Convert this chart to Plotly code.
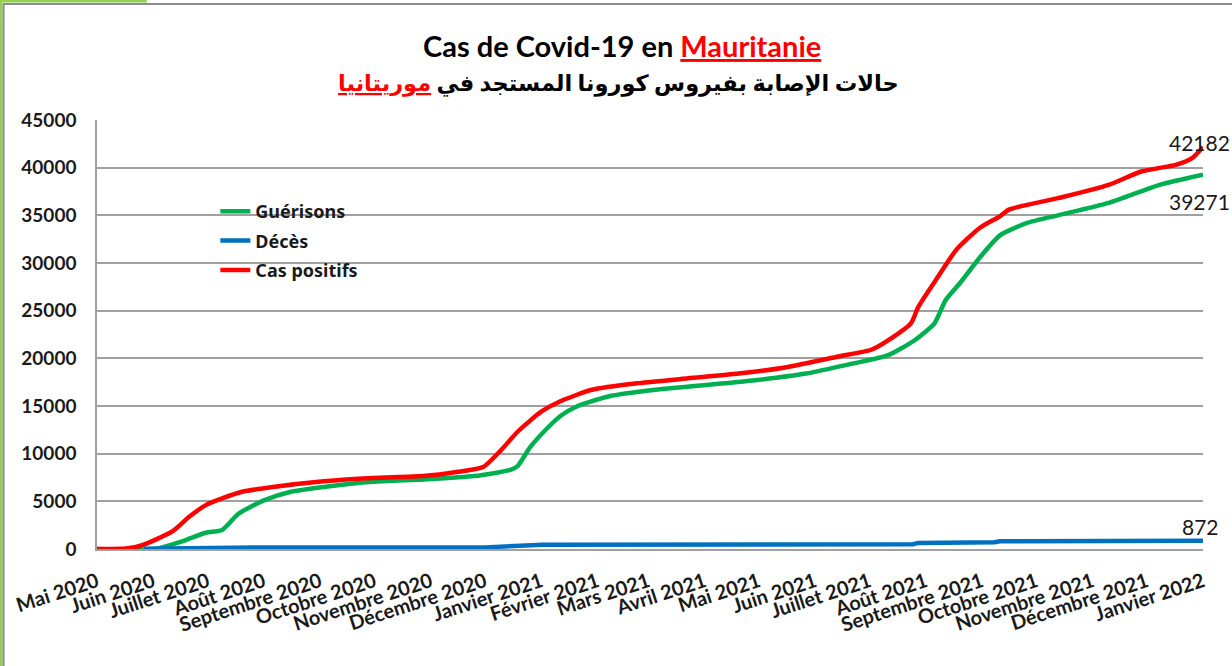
import plotly.graph_objects as go

# données (cumuls)
dates_cas = ["2020-05-01", "2020-05-17", "2020-05-26", "2020-06-12", "2020-06-21", "2020-06-30",
             "2020-07-09", "2020-07-20", "2020-08-06", "2020-09-03", "2020-09-30", "2020-10-28",
             "2020-11-16", "2020-11-30", "2020-12-10", "2020-12-19", "2021-01-01", "2021-01-11",
             "2021-01-29", "2021-02-24", "2021-03-23", "2021-04-20", "2021-05-17", "2021-06-14",
             "2021-07-02", "2021-07-13", "2021-07-24", "2021-07-28", "2021-08-08", "2021-08-18",
             "2021-08-31", "2021-09-11", "2021-09-16", "2021-10-13", "2021-11-10", "2021-11-28",
             "2021-12-17", "2021-12-26", "2022-01-01"]
cas_positifs = [0, 50, 400, 1900, 3400, 4600, 5300, 6000, 6500, 7100, 7450, 7650, 8100, 8600,
                10400, 12300, 14400, 15450, 16700, 17400, 17900, 18400, 19100, 20200, 20900,
                22100, 23700, 25400, 28600, 31400, 33700, 34900, 35600, 36800, 38200, 39600,
                40300, 41000, 42182]

dates_gue = ["2020-05-01", "2020-06-03", "2020-06-17", "2020-06-30", "2020-07-09", "2020-07-18",
             "2020-08-01", "2020-08-16", "2020-09-03", "2020-09-30", "2020-10-28", "2020-11-25",
             "2020-12-15", "2020-12-19", "2020-12-26", "2021-01-05", "2021-01-12", "2021-01-20",
             "2021-02-07", "2021-03-05", "2021-04-02", "2021-04-29", "2021-05-27", "2021-06-23",
             "2021-07-11", "2021-07-26", "2021-08-06", "2021-08-12", "2021-08-20", "2021-08-31",
             "2021-09-11", "2021-09-26", "2021-10-13", "2021-11-10", "2021-12-08", "2022-01-01"]
guerisons = [0, 30, 800, 1700, 2000, 3700, 5100, 6000, 6500, 7050, 7300, 7650, 8300, 8700,
             10700, 12800, 14000, 14900, 16000, 16700, 17200, 17700, 18400, 19500, 20300,
             21900, 23700, 26100, 27900, 30600, 32900, 34200, 35000, 36300, 38200, 39271]

dates_dec = ["2020-05-27", "2020-06-15", "2020-07-01", "2020-08-01", "2020-12-01", "2020-12-28",
             "2021-01-02", "2021-07-25", "2021-07-28", "2021-09-08", "2021-09-11", "2022-01-01"]
deces = [20, 60, 130, 157, 170, 380, 440, 500, 640, 720, 820, 872]

mois_vals = ["2020-05-01", "2020-06-01", "2020-07-01", "2020-08-01", "2020-09-01", "2020-10-01",
             "2020-11-01", "2020-12-01", "2021-01-01", "2021-02-01", "2021-03-01", "2021-04-01",
             "2021-05-01", "2021-06-01", "2021-07-01", "2021-08-01", "2021-09-01", "2021-10-01",
             "2021-11-01", "2021-12-01", "2022-01-01"]
mois_labels = ["Mai 2020", "Juin 2020", "Juillet 2020", "Août 2020", "Septembre 2020",
               "Octobre 2020", "Novembre 2020", "Décembre 2020", "Janvier 2021", "Février 2021",
               "Mars 2021", "Avril 2021", "Mai 2021", "Juin 2021", "Juillet 2021", "Août 2021",
               "Septembre 2021", "Octobre 2021", "Novembre 2021", "Décembre 2021", "Janvier 2022"]

FONT = "Lato, 'DejaVu Sans', sans-serif"
INK = "#1a1a1a"

fig = go.Figure()
fig.add_trace(go.Scatter(x=dates_gue, y=guerisons, name="<b>Guérisons</b>", mode="lines",
                         line=dict(color="#00b050", width=4.5, shape="spline", smoothing=0.6),
                         legendrank=1, legendgroup="g"))
fig.add_trace(go.Scatter(x=dates_cas, y=cas_positifs, name="<b>Cas positifs</b>", mode="lines",
                         line=dict(color="#ff0000", width=4.5, shape="spline", smoothing=0.6),
                         legendrank=3, legendgroup="c"))
fig.add_trace(go.Scatter(x=dates_dec, y=deces, name="<b>Décès</b>", mode="lines",
                         line=dict(color="#0070c0", width=4.5),
                         legendrank=2, legendgroup="d"))

# étiquettes des dernières valeurs
fig.add_annotation(x=dates_cas[-1], y=cas_positifs[-1], text=str(cas_positifs[-1]),
                   showarrow=False, xanchor="left", yanchor="middle", xshift=-36, yshift=4,
                   font=dict(family=FONT, size=21, color=INK))
fig.add_annotation(x=dates_gue[-1], y=guerisons[-1], text=str(guerisons[-1]),
                   showarrow=False, xanchor="left", yanchor="middle", xshift=-36, yshift=-27,
                   font=dict(family=FONT, size=21, color=INK))
fig.add_annotation(x=dates_dec[-1], y=deces[-1], text=str(deces[-1]),
                   showarrow=False, xanchor="right", yanchor="middle", xshift=18, yshift=14,
                   font=dict(family=FONT, size=21, color=INK))

# titre sur deux lignes
fig.add_annotation(xref="paper", yref="paper", x=0.4747, y=1.1725, showarrow=False,
                   xanchor="center", yanchor="middle",
                   text='<b>Cas de Covid-19 en <span style="color:#ff0000"><u>Mauritanie</u></span></b>',
                   font=dict(family=FONT, size=29, color="#000000"))
fig.add_annotation(xref="paper", yref="paper", x=0.4711, y=1.0862, showarrow=False,
                   xanchor="center", yanchor="middle",
                   text='<b>حالات الإصابة بفيروس كورونا المستجد في <span style="color:#ff0000"><u>موريتانيا</u></span></b>',
                   font=dict(family=FONT, size=22.5, color="#000000"))

# cadre
fig.add_shape(type="line", xref="paper", yref="paper", x0=-0.0868, x1=-0.0868, y0=-0.3, y1=1.28,
              line=dict(color="#92d050", width=3))
fig.add_shape(type="line", xref="paper", yref="paper", x0=-0.0877, x1=0.045, y0=1.2774, y1=1.2774,
              line=dict(color="#92d050", width=3))
fig.add_shape(type="line", xref="paper", yref="paper", x0=-0.085, x1=1.03, y0=1.2705, y1=1.2705,
              line=dict(color="#8c8c8c", width=2))
fig.add_shape(type="line", xref="paper", yref="paper", x0=-0.0845, x1=-0.0845, y0=-0.3, y1=1.2705,
              line=dict(color="#8c8c8c", width=2))

fig.update_layout(
    width=1232,
    height=666,
    margin=dict(l=97, r=29, t=120, b=117),
    paper_bgcolor="white",
    plot_bgcolor="white",
    font=dict(family=FONT, color=INK),
    showlegend=True,
    legend=dict(x=0.107, y=0.830, xanchor="left", yanchor="top", bgcolor="rgba(0,0,0,0)",
                font=dict(family="'Noto Sans', Lato, sans-serif", size=18, color=INK),
                tracegroupgap=3, traceorder="grouped"),
    xaxis=dict(
        type="date",
        range=["2020-05-01", "2022-01-01"],
        tickvals=mois_vals,
        ticktext=["<b>%s</b>" % m for m in mois_labels],
        tickangle=-18,
        tickfont=dict(family=FONT, size=20, color=INK),
        showgrid=False,
        showline=True,
        linecolor="#a0a0a0",
        linewidth=1.5,
        ticks="",
        zeroline=False,
        ticklabelstandoff=12,
    ),
    yaxis=dict(
        range=[0, 45000],
        dtick=5000,
        tickformat="d",
        tickfont=dict(family=FONT, size=19, color=INK),
        tickprefix="<b>",
        ticksuffix="</b>",
        showgrid=True,
        gridcolor="#a0a0a0",
        gridwidth=1.5,
        showline=True,
        linecolor="#a0a0a0",
        linewidth=1.5,
        zeroline=False,
        ticks="",
        ticklabelstandoff=15,
    ),
)

# la page est photographiée sans marge autour du graphique
fig.write_html("out.html", config={"displayModeBar": False},
               post_script="document.body.style.margin='0';")
